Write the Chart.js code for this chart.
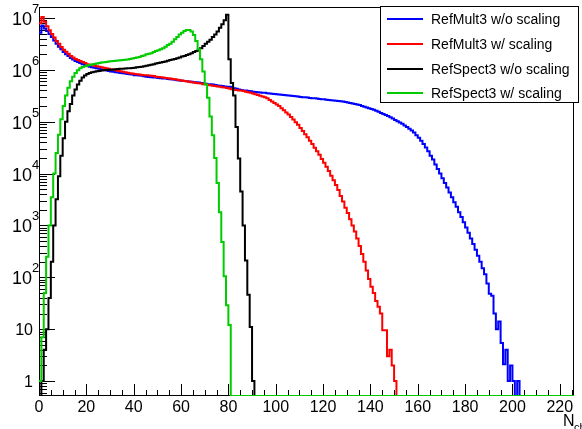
<!DOCTYPE html>
<html>
<head>
<meta charset="utf-8">
<script src="https://cdn.jsdelivr.net/npm/chart.js@4.4.1/dist/chart.umd.min.js"></script>
<style>
body { margin: 0; background: #fff; }
canvas { display: block; }
</style>
</head>
<body>
<canvas id="hist_chart" width="582" height="429"></canvas>
<script>
// axis ranges
const x_max = 226;
const y_min = 0.514;
const y_max = 1.63e7;

const x_tick_values = [0, 20, 40, 60, 80, 100, 120, 140, 160, 180, 200, 220];
const y_tick_values = [1, 10, 100, 1e3, 1e4, 1e5, 1e6, 1e7];
const y_tick_labels = ['1', '10', '10^2', '10^3', '10^4', '10^5', '10^6', '10^7'];

const x_title = 'N';
const x_title_sub = 'ch';

// bin contents, one value per unit bin starting at N = 0
const refmult3_raw = [
	5.2e6, 7.2e6, 6.3e6, 5.6e6, 4.9e6, 4.3e6, 3.7e6, 3.2e6, 2.8e6, 2.5e6,
	2.2e6, 2.0e6, 1.86e6, 1.7e6, 1.58e6, 1.48e6, 1.41e6, 1.35e6, 1.29e6, 1.23e6,
	1.2e6, 1.15e6, 1.12e6, 1.1e6, 1.07e6, 1.05e6, 1.02e6, 1.0e6, 9.8e5, 9.5e5,
	9.3e5, 9.2e5, 9.0e5, 8.9e5, 8.7e5, 8.6e5, 8.5e5, 8.3e5, 8.2e5, 8.1e5,
	7.9e5, 7.85e5, 7.8e5, 7.7e5, 7.5e5, 7.4e5, 7.3e5, 7.2e5, 7.15e5, 7.1e5,
	7.0e5, 6.9e5, 6.85e5, 6.8e5, 6.7e5, 6.6e5, 6.5e5, 6.45e5, 6.3e5, 6.25e5,
	6.2e5, 6.1e5, 6.0e5, 5.95e5, 5.9e5, 5.8e5, 5.75e5, 5.7e5, 5.55e5, 5.5e5,
	5.4e5, 5.3e5, 5.25e5, 5.2e5, 5.1e5, 5.0e5, 4.95e5, 4.9e5, 4.8e5, 4.7e5,
	4.7e5, 4.6e5, 4.4e5, 4.3e5, 4.2e5, 4.1e5, 4.0e5, 3.98e5, 3.9e5, 3.85e5,
	3.8e5, 3.75e5, 3.7e5, 3.67e5, 3.63e5, 3.6e5, 3.55e5, 3.5e5, 3.47e5, 3.43e5,
	3.4e5, 3.35e5, 3.3e5, 3.27e5, 3.24e5, 3.2e5, 3.16e5, 3.13e5, 3.1e5, 3.05e5,
	3.0e5, 2.98e5, 2.95e5, 2.92e5, 2.88e5, 2.85e5, 2.82e5, 2.79e5, 2.75e5, 2.72e5,
	2.7e5, 2.66e5, 2.63e5, 2.6e5, 2.57e5, 2.54e5, 2.51e5, 2.48e5, 2.45e5, 2.4e5,
	2.34e5, 2.29e5, 2.24e5, 2.19e5, 2.14e5, 2.09e5, 2.02e5, 1.95e5, 1.88e5, 1.82e5,
	1.76e5, 1.7e5, 1.62e5, 1.55e5, 1.48e5, 1.41e5, 1.35e5, 1.29e5, 1.22e5, 1.15e5,
	1.08e5, 1.02e5, 9.7e4, 9.1e4, 8.5e4, 7.9e4, 7.3e4, 6.8e4, 6.2e4, 5.5e4,
	4.9e4, 4.3e4, 3.7e4, 3.2e4, 2.7e4, 2.2e4, 1.86e4, 1.5e4, 1.23e4, 1.0e4,
	8.1e3, 6.6e3, 5.4e3, 4.3e3, 3.5e3, 2.8e3, 2.3e3, 1.8e3, 1.45e3, 1.15e3,
	910, 720, 560, 440, 340, 260, 200, 150, 115, 76,
	48, 44, 20, 10, 14, 5.4, 2.1, 4, 1, 2,
	1, 0, 1
];

const refmult3_scaled = [
	7.9e6, 1.05e7, 8.5e6, 6.9e6, 5.8e6, 4.9e6, 4.2e6, 3.6e6, 3.2e6, 2.75e6,
	2.45e6, 2.24e6, 2.04e6, 1.86e6, 1.74e6, 1.62e6, 1.55e6, 1.48e6, 1.41e6, 1.35e6,
	1.29e6, 1.26e6, 1.23e6, 1.2e6, 1.17e6, 1.15e6, 1.12e6, 1.1e6, 1.07e6, 1.05e6,
	1.02e6, 1.0e6, 9.8e5, 9.5e5, 9.4e5, 9.2e5, 9.0e5, 8.8e5, 8.6e5, 8.5e5,
	8.3e5, 8.2e5, 8.1e5, 8.0e5, 7.9e5, 7.85e5, 7.8e5, 7.7e5, 7.6e5, 7.4e5,
	7.3e5, 7.2e5, 7.1e5, 7.0e5, 6.9e5, 6.85e5, 6.7e5, 6.6e5, 6.45e5, 6.3e5,
	6.25e5, 6.1e5, 6.0e5, 5.9e5, 5.8e5, 5.7e5, 5.6e5, 5.5e5, 5.45e5, 5.3e5,
	5.25e5, 5.1e5, 5.05e5, 4.95e5, 4.9e5, 4.8e5, 4.7e5, 4.6e5, 4.55e5, 4.45e5,
	4.35e5, 4.25e5, 4.15e5, 4.1e5, 4.0e5, 3.98e5, 3.9e5, 3.8e5, 3.7e5, 3.63e5,
	3.5e5, 3.4e5, 3.27e5, 3.16e5, 3.05e5, 2.95e5, 2.82e5, 2.63e5, 2.45e5, 2.29e5,
	2.14e5, 2.0e5, 1.82e5, 1.66e5, 1.51e5, 1.38e5, 1.23e5, 1.1e5, 9.8e4, 8.7e4,
	7.6e4, 6.6e4, 5.75e4, 5.0e4, 4.3e4, 3.7e4, 3.16e4, 2.7e4, 2.3e4, 1.9e4,
	1.62e4, 1.35e4, 1.12e4, 9.1e3, 7.4e3, 6.0e3, 4.8e3, 3.7e3, 2.9e3, 2.2e3,
	1.74e3, 1.32e3, 1.0e3, 760, 560, 400, 280, 200, 135, 93,
	66, 50, 35, 27, 20, 9.5, 9.5, 3, 4, 2,
	1
];

const refspect3_raw = [
	0, 1, 4, 10, 40, 200, 1000, 3.2e3, 8.9e3, 2.2e4,
	4.8e4, 1.0e5, 1.6e5, 2.2e5, 3.2e5, 4.2e5, 5.2e5, 6.2e5, 7.1e5, 7.8e5,
	8.3e5, 8.7e5, 9.0e5, 9.2e5, 9.4e5, 9.5e5, 9.7e5, 9.8e5, 9.9e5, 1.0e6,
	1.01e6, 1.02e6, 1.03e6, 1.04e6, 1.05e6, 1.05e6, 1.06e6, 1.07e6, 1.08e6, 1.09e6,
	1.1e6, 1.12e6, 1.13e6, 1.15e6, 1.17e6, 1.2e6, 1.23e6, 1.26e6, 1.29e6, 1.32e6,
	1.35e6, 1.38e6, 1.41e6, 1.45e6, 1.5e6, 1.55e6, 1.58e6, 1.62e6, 1.68e6, 1.74e6,
	1.8e6, 1.86e6, 1.93e6, 2.0e6, 2.1e6, 2.2e6, 2.3e6, 2.45e6, 2.6e6, 2.9e6,
	3.2e6, 3.5e6, 3.8e6, 4.3e6, 4.8e6, 5.5e6, 6.5e6, 7.6e6, 9.1e6, 1.15e7,
	1.6e6, 5.6e5, 3.2e5, 7.9e4, 1.95e4, 4.5e3, 1000, 210, 46, 11,
	1
];

const refspect3_scaled = [
	1, 7, 50, 250, 1000, 3.5e3, 1.0e4, 2.5e4, 5.6e4, 1.12e5,
	2.0e5, 3.2e5, 4.5e5, 6.0e5, 7.4e5, 8.7e5, 9.8e5, 1.07e6, 1.13e6, 1.17e6,
	1.22e6, 1.24e6, 1.27e6, 1.3e6, 1.33e6, 1.35e6, 1.38e6, 1.4e6, 1.41e6, 1.45e6,
	1.46e6, 1.48e6, 1.5e6, 1.51e6, 1.53e6, 1.55e6, 1.57e6, 1.58e6, 1.62e6, 1.66e6,
	1.7e6, 1.74e6, 1.78e6, 1.86e6, 1.9e6, 2.0e6, 2.04e6, 2.1e6, 2.2e6, 2.3e6,
	2.4e6, 2.5e6, 2.6e6, 2.8e6, 3.0e6, 3.2e6, 3.5e6, 3.9e6, 4.3e6, 4.8e6,
	5.2e6, 5.6e6, 5.9e6, 5.9e6, 5.5e6, 4.7e6, 3.6e6, 2.5e6, 1.6e6, 9.3e5,
	5.2e5, 2.9e5, 1.26e5, 5.5e4, 2.0e4, 6.6e3, 1.8e3, 480, 105, 29,
	12
];

const font_family = '"Liberation Sans", Arial, Helvetica, sans-serif';

const hist_line_settings = {
	stepped: true,
	fill: false,
	borderWidth: 2,
	pointRadius: 0,
	pointHoverRadius: 0,
	tension: 0,
}

// histogram outline: bin low edges, then close the last bin and run along the floor
function hist_points(values) {
	const pts = values.map((v, i) => ({ x: i, y: v }));
	pts.push({ x: values.length, y: 0 });
	pts.push({ x: x_max, y: 0 });
	return pts;
}

const root_style = {
	id: 'root_style',
	beforeDraw(chart) {
		const ctx = chart.ctx;
		ctx.save();
		ctx.fillStyle = '#ffffff';
		ctx.fillRect(0, 0, chart.width, chart.height);
		ctx.restore();
	},
	beforeDatasetsDraw(chart) {
		const ctx = chart.ctx;
		const area = chart.chartArea;
		const xs = chart.scales.x;
		const ys = chart.scales.y;
		ctx.save();
		ctx.strokeStyle = '#000000';
		ctx.lineWidth = 1;
		ctx.strokeRect(area.left + 0.5, area.top + 0.5, area.right - area.left - 1, area.bottom - area.top - 1);

		// x ticks, pointing into the frame
		ctx.beginPath();
		for (let v = 0; v <= x_max; v += 5) {
			const px = Math.round(xs.getPixelForValue(v)) + 0.5;
			const len = (v % 20 === 0) ? 12 : 6;
			ctx.moveTo(px, area.bottom);
			ctx.lineTo(px, area.bottom - len);
		}
		// y ticks, log decades
		for (let d = -1; d <= 7; d++) {
			for (let k = 1; k <= 9; k++) {
				const v = k * Math.pow(10, d);
				if (v < y_min || v > y_max) continue;
				const py = Math.round(ys.getPixelForValue(v)) + 0.5;
				const len = (k === 1) ? 16 : 8;
				ctx.moveTo(area.left, py);
				ctx.lineTo(area.left + len, py);
			}
		}
		ctx.stroke();

		ctx.fillStyle = '#000000';
		ctx.font = '16px ' + font_family;
		ctx.textAlign = 'center';
		ctx.textBaseline = 'alphabetic';
		x_tick_values.forEach((v) => {
			ctx.fillText(String(v), xs.getPixelForValue(v), 412);
		});

		y_tick_values.forEach((v, i) => {
			const py = ys.getPixelForValue(v);
			const parts = y_tick_labels[i].split('^');
			if (parts.length === 1) {
				ctx.font = '16px ' + font_family;
				ctx.textAlign = 'right';
				ctx.fillText(parts[0], 33, py + 6);
			} else {
				ctx.font = '13px ' + font_family;
				ctx.textAlign = 'left';
				ctx.fillText(parts[1], 32, py - 5);
				ctx.font = '18px ' + font_family;
				ctx.textAlign = 'right';
				ctx.fillText(parts[0], 32, py + 7);
			}
		});

		// axis title N_ch at the right end
		ctx.textAlign = 'left';
		ctx.font = '16px ' + font_family;
		ctx.fillText(x_title, 563, 426);
		ctx.font = '11px ' + font_family;
		ctx.fillText(x_title_sub, 574, 431);
		ctx.restore();
	},
	afterDraw(chart) {
		const ctx = chart.ctx;
		const sets = chart.data.datasets;
		ctx.save();
		ctx.fillStyle = '#ffffff';
		ctx.fillRect(380, 6, 199, 97);
		ctx.strokeStyle = '#000000';
		ctx.lineWidth = 1;
		ctx.strokeRect(380.5, 6.5, 198, 96);
		ctx.font = '14px ' + font_family;
		ctx.textAlign = 'left';
		ctx.textBaseline = 'middle';
		const rows = [19, 44, 69, 93];
		sets.forEach((ds, i) => {
			ctx.strokeStyle = ds.borderColor;
			ctx.lineWidth = 2;
			ctx.beginPath();
			ctx.moveTo(387, rows[i]);
			ctx.lineTo(423, rows[i]);
			ctx.stroke();
			ctx.fillStyle = '#000000';
			ctx.fillText(ds.label, 431, rows[i] + 1);
		});
		ctx.restore();
	}
}

const hist_ctx = document.getElementById('hist_chart').getContext('2d');

const hist_chart = new Chart(hist_ctx, {
	type: 'line',
	data: {
		datasets: [{
			label: 'RefMult3 w/o scaling',
			data: hist_points(refmult3_raw),
			borderColor: '#0000ff',
			order: 3,
			...hist_line_settings
		}, {
			label: 'RefMult3 w/ scaling',
			data: hist_points(refmult3_scaled),
			borderColor: '#ff0000',
			order: 2,
			...hist_line_settings
		}, {
			label: 'RefSpect3 w/o scaling',
			data: hist_points(refspect3_raw),
			borderColor: '#000000',
			order: 1,
			...hist_line_settings
		}, {
			label: 'RefSpect3 w/ scaling',
			data: hist_points(refspect3_scaled),
			borderColor: '#00cc00',
			order: 0,
			...hist_line_settings
		}]
	},
	options: {
		parsing: false,
		animation: false,
		responsive: false,
		events: [],
		layout: {
			padding: { left: 39, right: 8, top: 7, bottom: 33 }
		},
		scales: {
			x: { type: 'linear', min: 0, max: x_max, display: false },
			y: { type: 'logarithmic', min: y_min, max: y_max, display: false }
		},
		plugins: {
			legend: { display: false },
			tooltip: { enabled: false }
		}
	},
	plugins: [root_style]
});
</script>
</body>
</html>
